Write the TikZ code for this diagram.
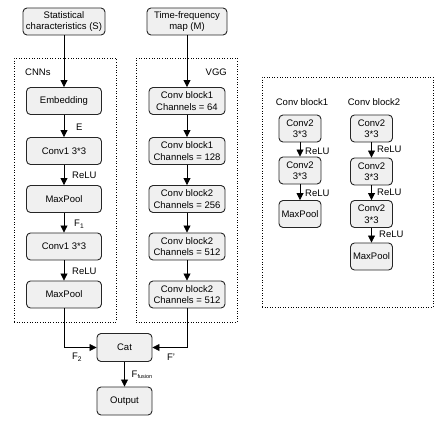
\documentclass[tikz,border=0pt]{standalone}
\usepackage{fontspec}
\setmainfont{Liberation Sans}
\usetikzlibrary{arrows.meta}
\begin{document}
\begin{tikzpicture}[x=1pt,y=-1pt, font=\fontsize{9.5}{11.5}\selectfont,
 box/.style={draw=black!85, line width=0.9pt, fill=gray!12, rounded corners=4pt, align=center, inner sep=1pt},
 wbox/.style={box, minimum width=75pt, minimum height=27pt},
 sbox/.style={box, minimum width=42pt, minimum height=27pt},
 arr/.style={-{Triangle[length=7pt,width=7pt]}, line width=0.8pt},
 frame/.style={draw, dotted, line width=0.6pt, inner sep=0pt},
 lbl/.style={inner sep=0pt}]
\useasboundingbox (0,0) rectangle (436,428);

% frames
\node[frame, minimum width=102pt, minimum height=264pt] (cnnframe) at (65,190) {};
\node[frame, minimum width=101pt, minimum height=264pt] (vggframe) at (186.5,190) {};
\node[frame, minimum width=171pt, minimum height=230pt] (blkframe) at (347.5,192) {};
\node[lbl, anchor=west] (cnnlbl) at (25,72) {CNNs};
\node[lbl, anchor=east] (vgglbl) at (227,72) {VGG};

% inputs
\node[box, minimum width=82pt, minimum height=27pt] (stat) at (64,21.5) {Statistical\\characteristics (S)};
\node[box, minimum width=80pt, minimum height=27pt] (tf) at (187,21.5) {Time-frequency\\map (M)};

% CNN column
\node[wbox] (emb) at (64,101) {Embedding};
\node[wbox] (c1) at (64,151) {Conv1 3*3};
\node[wbox] (mp1) at (64,199) {MaxPool};
\node[wbox] (c2) at (64,246.5) {Conv1 3*3};
\node[wbox] (mp2) at (64,294.5) {MaxPool};

% VGG column
\node[wbox, minimum width=76pt] (v1) at (187,101) {Conv block1\\Channels = 64};
\node[wbox, minimum width=76pt] (v2) at (187,151) {Conv block1\\Channels = 128};
\node[wbox, minimum width=76pt] (v3) at (187,199) {Conv block2\\Channels = 256};
\node[wbox, minimum width=76pt] (v4) at (187,246.5) {Conv block2\\Channels = 512};
\node[wbox, minimum width=76pt] (v5) at (187,294.5) {Conv block2\\Channels = 512};

% fusion
\node[box, minimum width=55pt, minimum height=28pt] (cat) at (124.5,347.5) {Cat};
\node[box, minimum width=55pt, minimum height=28pt] (out) at (124.5,401) {Output};

% arrows
\draw[arr] (stat) -- (emb);
\draw[arr] (emb) -- (c1);
\draw[arr] (c1) -- (mp1);
\draw[arr] (mp1) -- (c2);
\draw[arr] (c2) -- (mp2);
\node[lbl, anchor=west] (le) at (76,127) {E};
\node[lbl, anchor=west] (lr1) at (72,175) {ReLU};
\node[lbl, anchor=west] (lf1) at (74,224) {F\textsubscript{1}};
\node[lbl, anchor=west] (lr2) at (72,271) {ReLU};

\draw[arr] (tf) -- (v1);
\draw[arr] (v1) -- (v2);
\draw[arr] (v2) -- (v3);
\draw[arr] (v3) -- (v4);
\draw[arr] (v4) -- (v5);

\draw[arr] (mp2.south) |- (cat.west);
\draw[arr] (v5.south) |- (cat.east);
\draw[arr] (cat) -- (out);
\node[lbl] (lf2) at (77,357) {F\textsubscript{2}};
\node[lbl] (lfp) at (171,357) {F'};
\node[lbl, anchor=west] (lff) at (131.5,375) {F\textsubscript{\fontsize{5.5}{6}\selectfont fusion}};

% right panel
\node[lbl] (b1t) at (302,102) {Conv block1};
\node[lbl] (b2t) at (374,102) {Conv block2};
\node[sbox] (a1) at (300,128.5) {Conv2\\3*3};
\node[sbox] (a2) at (300,170.5) {Conv2\\3*3};
\node[sbox] (a3) at (300,214) {MaxPool};
\draw[arr] (a1) -- (a2);
\draw[arr] (a2) -- (a3);
\node[lbl, anchor=west] (ar1) at (305,151) {ReLU};
\node[lbl, anchor=west] (ar2) at (305,193) {ReLU};

\node[sbox] (b1) at (371.5,128.5) {Conv2\\3*3};
\node[sbox] (b2) at (371.5,171.5) {Conv2\\3*3};
\node[sbox] (b3) at (371.5,214) {Conv2\\3*3};
\node[sbox] (b4) at (371.5,256.5) {MaxPool};
\draw[arr] (b1) -- (b2);
\draw[arr] (b2) -- (b3);
\draw[arr] (b3) -- (b4);
\node[lbl, anchor=west] (br1) at (377,149) {ReLU};
\node[lbl, anchor=west] (br2) at (377,192) {ReLU};
\node[lbl, anchor=west] (br3) at (379,234) {ReLU};
\end{tikzpicture}
\end{document}
